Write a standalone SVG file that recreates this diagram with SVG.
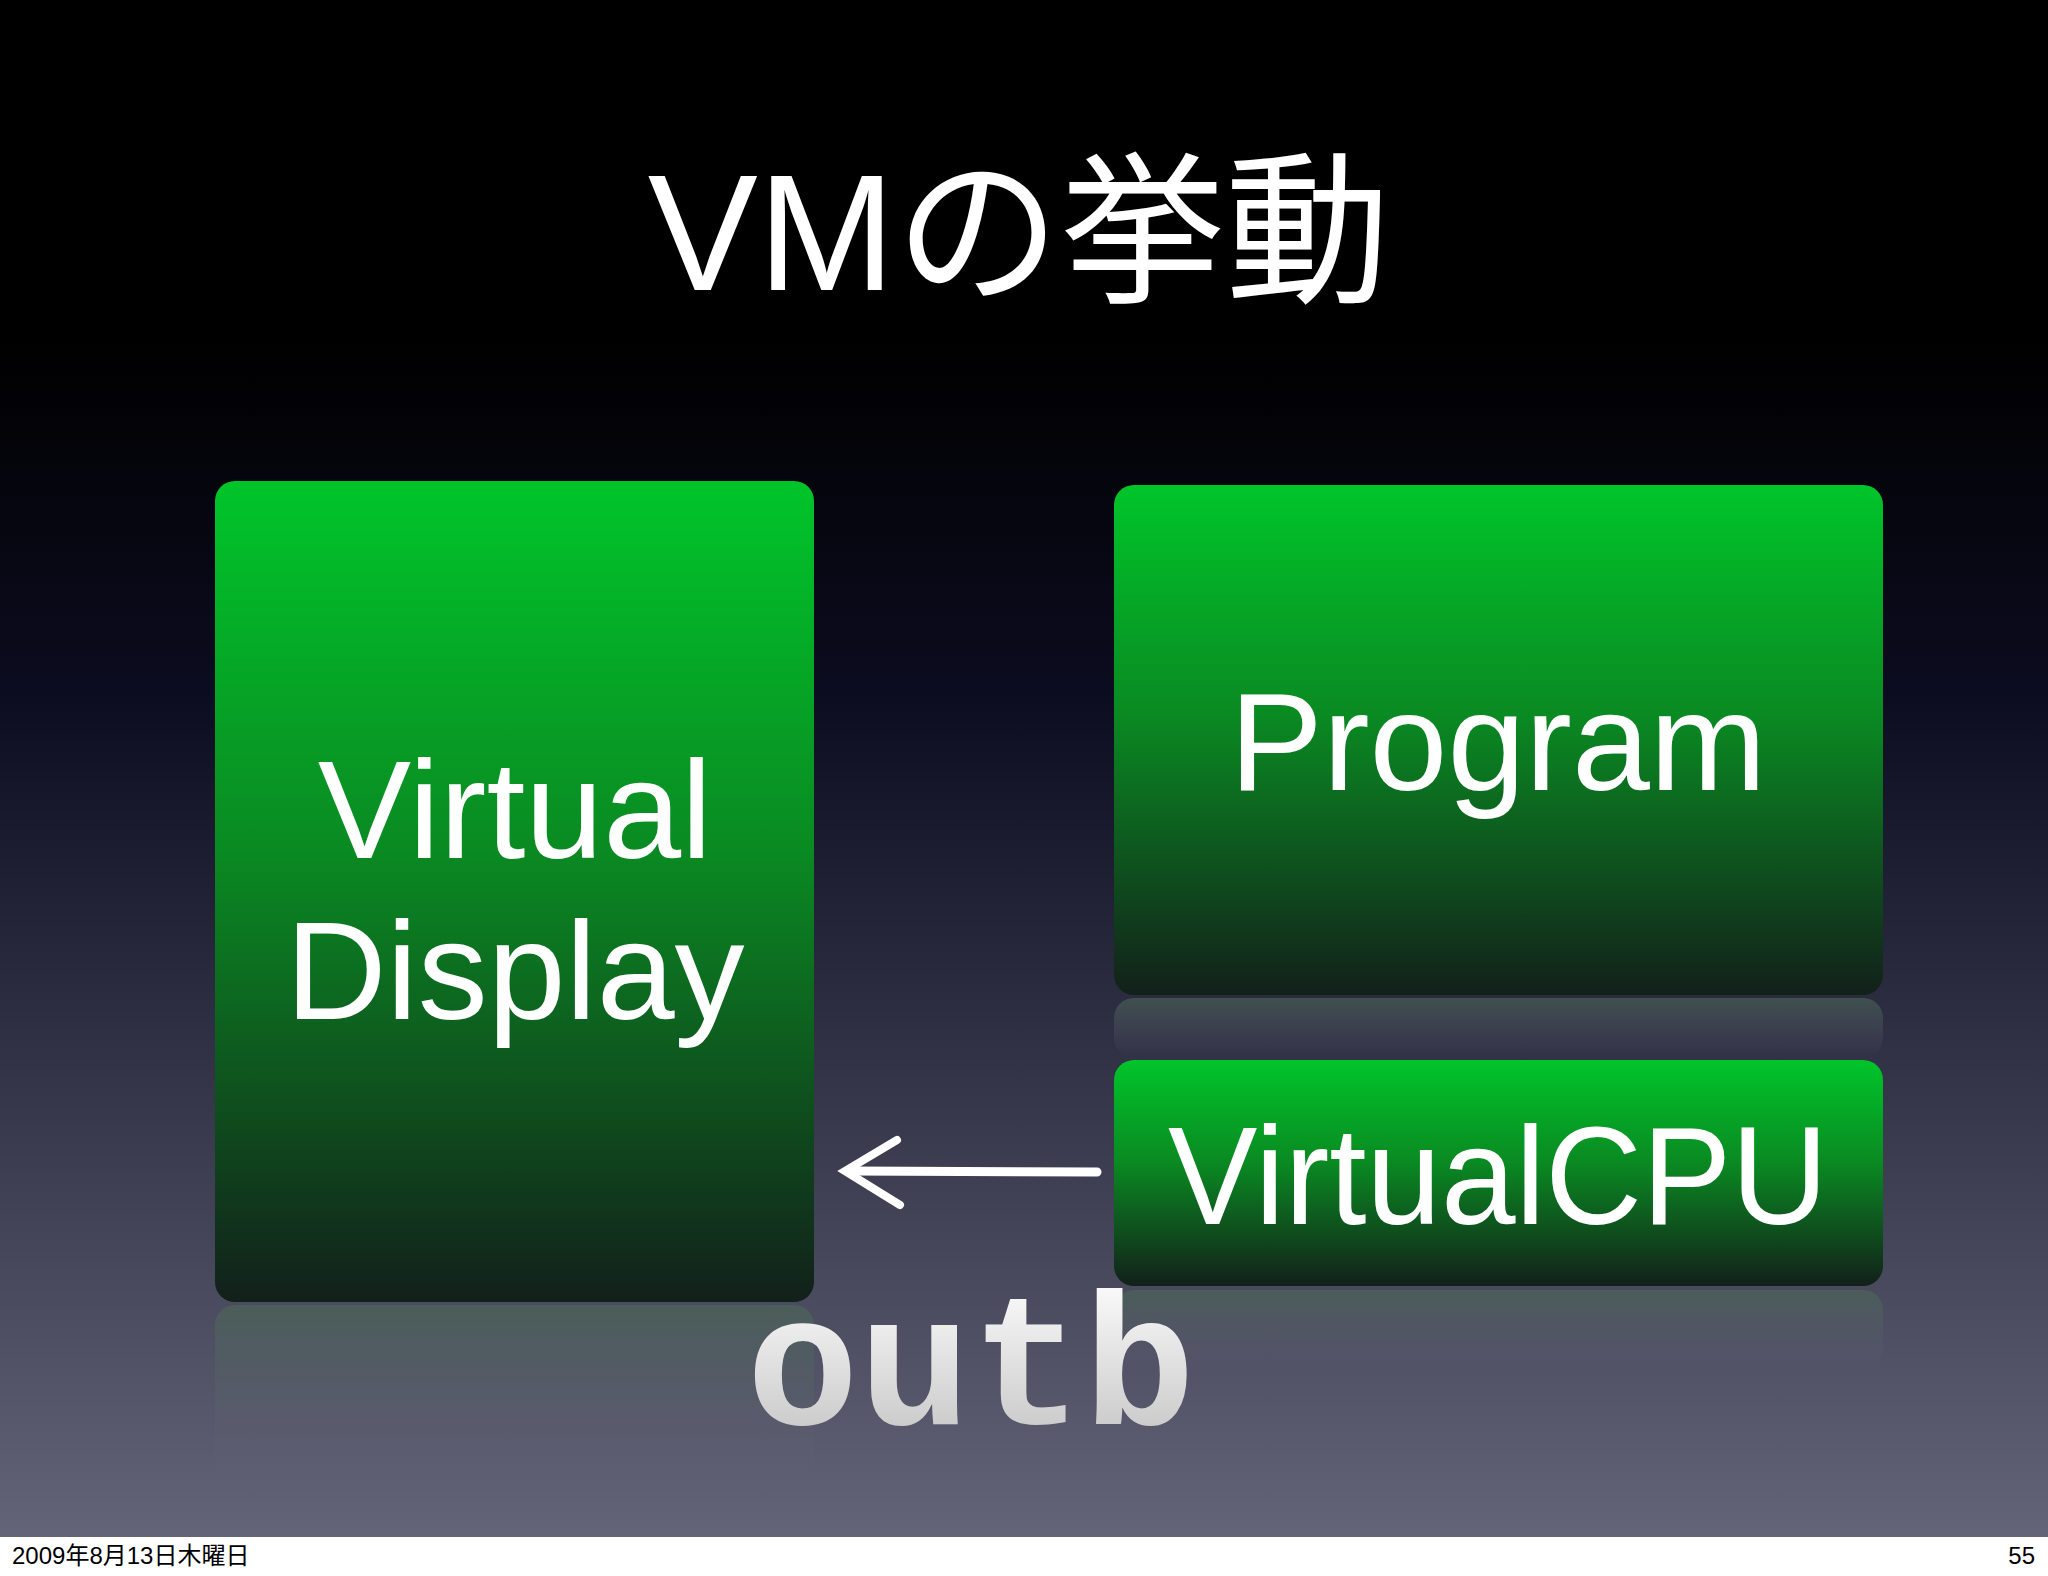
<svg xmlns="http://www.w3.org/2000/svg" width="2048" height="1576" viewBox="0 0 2048 1576">
<defs>
<linearGradient id="bg" x1="0" y1="0" x2="0" y2="1">
<stop offset="0" stop-color="#000"/><stop offset="0.22" stop-color="#000"/><stop offset="0.45" stop-color="#0c0c20"/><stop offset="1" stop-color="#646478"/>
</linearGradient>
<linearGradient id="box" x1="0" y1="0" x2="0" y2="1">
<stop offset="0" stop-color="#00c52a"/><stop offset="0.45" stop-color="#0a8a22"/><stop offset="1" stop-color="#12201a"/>
</linearGradient>
<linearGradient id="refl" x1="0" y1="0" x2="0" y2="1">
<stop offset="0" stop-color="#4a6a55" stop-opacity="0.6"/><stop offset="1" stop-color="#646478" stop-opacity="0"/>
</linearGradient>
<linearGradient id="outb" x1="0" y1="0" x2="0" y2="1">
<stop offset="0" stop-color="#ffffff"/><stop offset="1" stop-color="#bbbbbb"/>
</linearGradient>
<style>
.t{font-family:"Liberation Sans","Noto Sans CJK JP",sans-serif;fill:#fff;text-anchor:middle}
.f{font-family:"Liberation Sans","Noto Sans CJK JP",sans-serif;fill:#000;font-size:24px}
</style>
</defs>
<rect width="2048" height="1576" fill="#fff"/>
<rect width="2048" height="1537" fill="url(#bg)"/>
<text class="t" x="1019" y="290" font-size="165">VMの挙動</text>
<g id="reflections">
<rect x="215" y="1305" width="599" height="180" rx="20" fill="url(#refl)"/>
<rect x="1114" y="998" width="769" height="60" rx="20" fill="url(#refl)"/>
<rect x="1114" y="1290" width="769" height="80" rx="20" fill="url(#refl)"/>
</g>
<g id="display">
<rect x="215" y="481" width="599" height="821" rx="20" fill="url(#box)"/>
<text class="t" x="515" y="858" font-size="140">Virtual</text>
<text class="t" x="515" y="1019" font-size="140">Display</text>
</g>
<g id="program">
<rect x="1114" y="485" width="769" height="510" rx="20" fill="url(#box)"/>
<text class="t" x="1498" y="790" font-size="140">Program</text>
</g>
<g id="cpu">
<rect x="1114" y="1060" width="769" height="226" rx="20" fill="url(#box)"/>
<text class="t" x="1498" y="1224" font-size="140" textLength="660" lengthAdjust="spacingAndGlyphs">VirtualCPU</text>
</g>
<g id="connectors" stroke="#fff" stroke-linecap="round" fill="none">
<path d="M1097 1172 L850 1171" stroke-width="9"/>
<path d="M897 1140 L845 1171 L900 1205" stroke-width="8"/>
</g>
<text x="971" y="1424" font-family="Liberation Mono,monospace" font-weight="bold" font-size="187" fill="url(#outb)" text-anchor="middle">outb</text>
<text class="f" x="12" y="1564">2009年8月13日木曜日</text>
<text class="f" x="2035" y="1564" text-anchor="end">55</text>
</svg>
